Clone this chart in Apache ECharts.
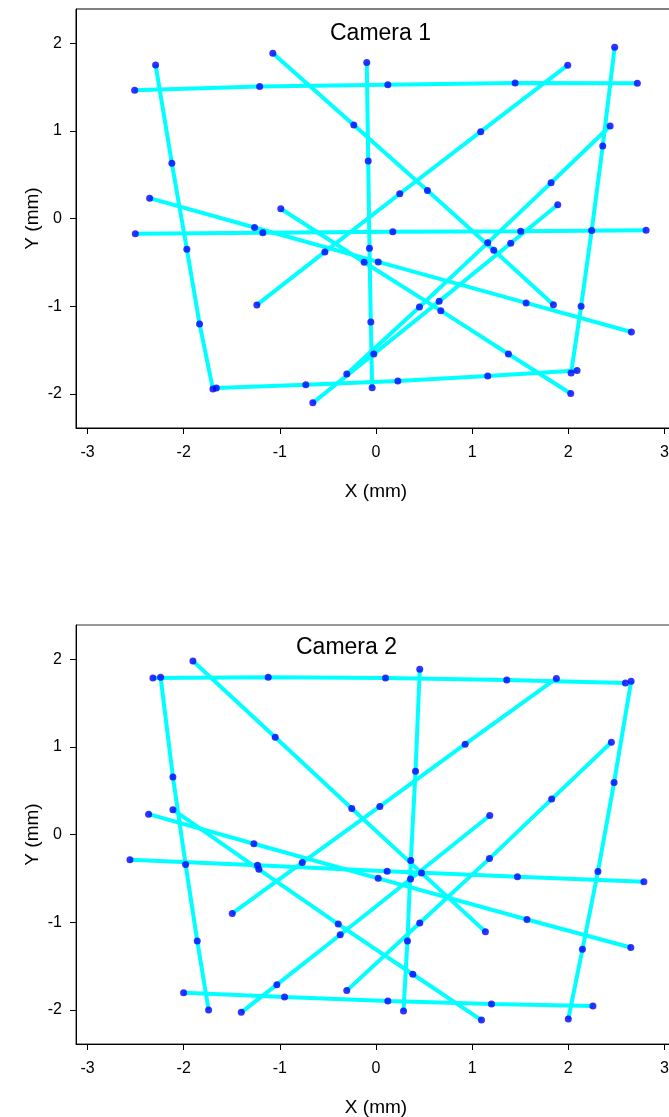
<!DOCTYPE html>
<html>
<head>
<meta charset="utf-8">
<title>Camera 1 / Camera 2</title>
<script src="https://cdn.jsdelivr.net/npm/echarts@6/dist/echarts.min.js"></script>
<style>
html, body { margin: 0; padding: 0; background: #fff; }
#chart { width: 669px; height: 1117px; }
</style>
</head>
<body>
<div id="chart"></div>
<script>
// tick labels
var xTicks = [-3, -2, -1, 0, 1, 2, 3]
var yTicks = [-2, -1, 0, 1, 2]

// Camera 1 : grid lines, [x, y] in mm
var cam1Rows = [
  [[-2.510, 1.463], [-1.210, 1.505], [0.123, 1.526], [1.447, 1.546], [2.718, 1.543]],
  [[-2.503, -0.175], [-1.177, -0.163], [0.175, -0.152], [1.505, -0.145], [2.809, -0.134]],
  [[-1.661, -1.935], [-0.730, -1.897], [0.227, -1.855], [1.162, -1.798], [2.091, -1.734]]
]
var cam1Cols = [
  [[-2.292, 1.752], [-2.123, 0.629], [-1.967, -0.351], [-1.835, -1.203], [-1.696, -1.946]],
  [[-0.096, 1.779], [-0.081, 0.655], [-0.068, -0.339], [-0.054, -1.181], [-0.040, -1.931]],
  [[2.482, 1.954], [2.358, 0.826], [2.243, -0.137], [2.133, -1.002], [2.029, -1.763]]
]
var cam1Falling = [
  [[-1.073, 1.886], [-0.231, 1.066], [0.535, 0.320], [1.225, -0.362], [1.845, -0.983]],
  [[-2.354, 0.232], [-1.263, -0.103], [0.023, -0.495], [1.561, -0.963], [2.656, -1.295]],
  [[-0.990, 0.111], [-0.123, -0.499], [0.674, -1.051], [1.377, -1.546], [2.025, -1.997]]
]
var cam1Rising = [
  [[-1.239, -0.986], [-0.532, -0.381], [0.247, 0.282], [1.089, 0.991], [1.994, 1.749]],
  [[-0.304, -1.775], [0.452, -1.009], [1.162, -0.278], [1.821, 0.408], [2.435, 1.055]],
  [[-0.657, -2.103], [-0.023, -1.546], [0.657, -0.945], [1.401, -0.282], [1.890, 0.157]]
]

// Camera 2
var cam2Rows = [
  [[-2.320, 1.785], [-1.121, 1.793], [0.099, 1.785], [1.360, 1.762], [2.594, 1.728]],
  [[-2.559, -0.289], [-1.232, -0.351], [0.116, -0.420], [1.471, -0.481], [2.786, -0.538]],
  [[-2.001, -1.804], [-0.951, -1.854], [0.123, -1.899], [1.201, -1.934], [2.256, -1.957]]
]
var cam2Cols = [
  [[-2.240, 1.793], [-2.112, 0.656], [-1.980, -0.343], [-1.859, -1.216], [-1.741, -2.002]],
  [[0.455, 1.884], [0.411, 0.721], [0.362, -0.297], [0.327, -1.216], [0.286, -2.014]],
  [[2.653, 1.747], [2.476, 0.592], [2.308, -0.423], [2.147, -1.310], [2.000, -2.105]]
]
var cam2Falling = [
  [[-1.904, 1.979], [-1.048, 1.110], [-0.252, 0.297], [0.473, -0.438], [1.138, -1.110]],
  [[-2.365, 0.232], [-1.270, -0.106], [0.023, -0.500], [1.570, -0.970], [2.650, -1.289]],
  [[-2.112, 0.283], [-1.218, -0.397], [-0.393, -1.022], [0.383, -1.594], [1.097, -2.117]]
]
var cam2Rising = [
  [[-1.495, -0.900], [-0.767, -0.320], [0.040, 0.320], [0.927, 1.030], [1.876, 1.781]],
  [[-1.401, -2.029], [-1.031, -1.713], [-0.372, -1.144], [0.359, -0.507], [1.183, 0.217]],
  [[-0.304, -1.781], [0.455, -1.010], [1.180, -0.275], [1.827, 0.404], [2.448, 1.053]]
]

var FONT = '"Liberation Sans", Arial, sans-serif'

function xAx (i) {
  return {
    type: 'value', gridIndex: i, min: -3.12, max: 3.12,
    name: 'X (mm)', nameLocation: 'middle', nameGap: 54, nameMoveOverlap: false,
    nameTextStyle: { fontSize: 19, color: '#000', fontFamily: FONT },
    axisLine: { show: true, onZero: false, lineStyle: { color: '#000', width: 1 } },
    axisTick: { show: true, length: 6, customValues: xTicks, lineStyle: { color: '#000' } },
    axisLabel: { fontSize: 16, color: '#000', margin: 17, fontFamily: FONT, customValues: xTicks },
    splitLine: { show: false }
  }
}
function yAx (i) {
  return {
    type: 'value', gridIndex: i, min: -2.39, max: 2.39,
    name: 'Y (mm)', nameLocation: 'middle', nameGap: 34, nameMoveOverlap: false,
    nameTextStyle: { fontSize: 19, color: '#000', fontFamily: FONT },
    axisLine: { show: true, onZero: false, lineStyle: { color: '#000', width: 1 } },
    axisTick: { show: true, length: 6, customValues: yTicks, lineStyle: { color: '#000' } },
    axisLabel: { fontSize: 16, color: '#000', margin: 14, fontFamily: FONT, customValues: yTicks },
    splitLine: { show: false }
  }
}

var series = []
function addCamera (i, groups) {
  var dots = []
  groups.forEach(function (g) {
    g.forEach(function (pts) {
      series.push({
        type: 'line', xAxisIndex: i, yAxisIndex: i, data: pts,
        symbol: 'none', silent: true, z: 2,
        lineStyle: { color: '#00ffff', width: 4 }
      })
      dots = dots.concat(pts)
    })
  })
  series.push({
    type: 'scatter', xAxisIndex: i, yAxisIndex: i, data: dots,
    symbolSize: 7, z: 3, itemStyle: { color: '#0000ff' }
  })
}
addCamera(0, [cam1Rows, cam1Cols, cam1Falling, cam1Rising])
addCamera(1, [cam2Rows, cam2Cols, cam2Falling, cam2Rising])

var chart = echarts.init(document.getElementById('chart'), null, { renderer: 'canvas' })
chart.setOption({
  animation: false,
  backgroundColor: '#fff',
  title: [
    { text: 'Camera 1', left: 330, top: 22, padding: 0, textStyle: { fontSize: 23, fontWeight: 'normal', color: '#000', fontFamily: FONT } },
    { text: 'Camera 2', left: 296, top: 636, padding: 0, textStyle: { fontSize: 23, fontWeight: 'normal', color: '#000', fontFamily: FONT } }
  ],
  grid: [
    { left: 76, top: 9, width: 600, height: 419, outerBoundsMode: 'none', show: true, borderColor: '#000', borderWidth: 1 },
    { left: 76, top: 625, width: 600, height: 419, outerBoundsMode: 'none', show: true, borderColor: '#333', borderWidth: 1 }
  ],
  xAxis: [xAx(0), xAx(1)],
  yAxis: [yAx(0), yAx(1)],
  series: series
})
</script>
</body>
</html>
